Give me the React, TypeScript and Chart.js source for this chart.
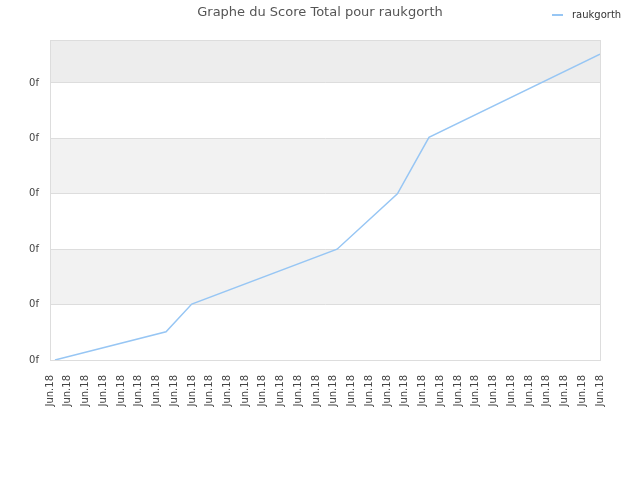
import { useEffect, useRef } from 'react';
import { Chart, registerables } from 'chart.js';

Chart.register(...registerables);

const player = 'raukgorth';
const chartTitle = 'Graphe du Score Total pour raukgorth';

// x = position along the June date axis, y = total score (in grid steps)
const dayPositions = [0.28, 6.54, 7.99, 16.18, 19.58, 21.36, 31];
const totalScores = [0, 0.51, 1.01, 2.0, 3.0, 4.02, 5.52];

const dateLabels = Array.from({ length: 32 }, () => 'Jun.18');
const scoreLabel = '0f';

const lineColor = '#97c6f4';

const bandsPlugin = {
  id: 'bands',
  beforeDraw(chart: Chart) {
    const { ctx, chartArea } = chart;
    const y = chart.scales.y;
    if (!chartArea || !y) return;
    ctx.save();
    ctx.fillStyle = '#ffffff';
    ctx.fillRect(chartArea.left, chartArea.top, chartArea.width, chartArea.height);
    for (let i = 0; i < 6; i++) {
      if (i % 2 === 0) continue;
      const top = i === 5 ? chartArea.top : y.getPixelForValue(i + 1);
      const bottom = y.getPixelForValue(i);
      ctx.fillStyle = i === 5 ? '#ededed' : '#f2f2f2';
      ctx.fillRect(chartArea.left, top, chartArea.width, bottom - top);
    }
    ctx.strokeStyle = '#dddddd';
    ctx.lineWidth = 1;
    ctx.strokeRect(chartArea.left + 0.5, chartArea.top + 0.5, chartArea.width, chartArea.height);
    ctx.restore();
  },
};

export default function App() {
  const canvasRef = useRef<HTMLCanvasElement>(null);

  useEffect(() => {
    if (!canvasRef.current) return;
    Chart.defaults.font.family = "'DejaVu Sans', sans-serif";

    const chart = new Chart(canvasRef.current, {
      type: 'line',
      data: {
        datasets: [{
          label: player,
          data: dayPositions.map((x, i) => ({ x, y: totalScores[i] })),
          borderColor: lineColor,
          borderWidth: 1.5,
          pointRadius: 0,
          tension: 0,
          fill: false,
        }],
      },
      options: {
        animation: false,
        responsive: true,
        maintainAspectRatio: false,
        layout: { padding: 0 },
        plugins: {
          legend: { display: false },
          tooltip: { enabled: false },
          title: {
            display: true,
            text: chartTitle,
            color: '#555555',
            font: { size: 13, weight: 'normal' },
            padding: { top: 5, bottom: 19.4 },
          },
        },
        scales: {
          x: {
            type: 'linear',
            min: 0,
            max: 31,
            grid: { display: false },
            border: { color: '#dddddd' },
            ticks: {
              stepSize: 1,
              autoSkip: false,
              maxRotation: 90,
              minRotation: 90,
              padding: 7,
              color: '#444444',
              font: { size: 10 },
              callback: (_v, i) => dateLabels[i] ?? '',
            },
            afterFit: (scale) => { scale.height = 120; },
          },
          y: {
            type: 'linear',
            min: 0,
            max: 5.776,
            grid: { color: '#dddddd', drawTicks: false },
            border: { color: '#dddddd' },
            ticks: {
              stepSize: 1,
              includeBounds: false,
              padding: 11,
              color: '#444444',
              font: { size: 10 },
              callback: () => scoreLabel,
            },
            afterFit: (scale) => { scale.width = 50; },
          },
          yRight: {
            type: 'linear',
            position: 'right',
            grid: { display: false },
            border: { display: false },
            ticks: { display: false },
            afterFit: (scale) => { scale.width = 40; },
          },
        },
      },
      plugins: [bandsPlugin],
    });

    return () => {
      chart.destroy();
    };
  }, []);

  return (
    <div style={{ position: 'fixed', left: 0, top: 0, width: 640, height: 480, background: '#fff' }}>
      <canvas ref={canvasRef} />
      <div
        style={{
          position: 'absolute',
          left: 552,
          top: 9,
          display: 'flex',
          alignItems: 'center',
          fontFamily: "'DejaVu Sans', sans-serif",
          fontSize: 10,
          lineHeight: '12px',
          color: '#333',
        }}
      >
        <span style={{ display: 'inline-block', width: 11, height: 2, background: lineColor, marginRight: 9 }} />
        <span>{player}</span>
      </div>
    </div>
  );
}
